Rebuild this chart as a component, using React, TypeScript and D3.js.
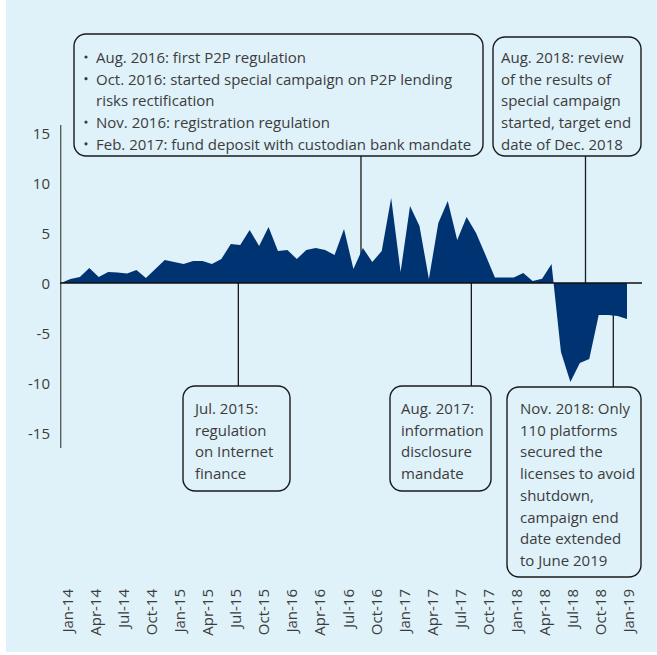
import React from "react";
import * as d3 from "d3";

// Monthly values, Jan-2014 .. Jan-2019 (61 points)
const values: number[] = [
  0.0, 0.4, 0.6, 1.5, 0.6, 1.1, 1.05, 0.95, 1.3, 0.5, 1.4, 2.3,
  2.1, 1.9, 2.2, 2.2, 1.9, 2.4, 3.9, 3.8, 5.3, 3.7, 5.6, 3.2,
  3.3, 2.4, 3.3, 3.5, 3.3, 2.8, 5.4, 1.4, 3.5, 2.1, 3.2, 8.5,
  1.1, 7.7, 5.7, 0.4, 6.0, 8.2, 4.3, 6.6, 5.0, 2.8, 0.55, 0.55,
  0.55, 1.0, 0.2, 0.43, 1.9, -6.9, -9.9, -8.0, -7.6, -3.2, -3.2, -3.3,
  -3.6,
];

const tickLabels: string[] = [
  "Jan-14", "Apr-14", "Jul-14", "Oct-14",
  "Jan-15", "Apr-15", "Jul-15", "Oct-15",
  "Jan-16", "Apr-16", "Jul-16", "Oct-16",
  "Jan-17", "Apr-17", "Jul-17", "Oct-17",
  "Jan-18", "Apr-18", "Jul-18", "Oct-18",
  "Jan-19",
];

const yTicks: number[] = [15, 10, 5, 0, -5, -10, -15];

// Annotation texts
const noteTop1: string[] = [
  "Aug. 2016: first P2P regulation",
  "Oct. 2016: started special campaign on P2P lending",
  "risks rectification",
  "Nov. 2016: registration regulation",
  "Feb. 2017: fund deposit with custodian bank mandate",
];
const noteTop1Bullets: boolean[] = [true, true, false, true, true];
const noteTop2: string[] = [
  "Aug. 2018: review",
  "of the results of",
  "special campaign",
  "started, target end",
  "date of Dec. 2018",
];
const noteBot1: string[] = ["Jul. 2015:", "regulation", "on Internet", "finance"];
const noteBot2: string[] = ["Aug. 2017:", "information", "disclosure", "mandate"];
const noteBot3: string[] = [
  "Nov. 2018: Only",
  "110 platforms",
  "secured the",
  "licenses to avoid",
  "shutdown,",
  "campaign end",
  "date extended",
  "to June 2019",
];

const W = 657;
const H = 655;
const FONT = "'Open Sans', 'Noto Sans', sans-serif";
const TEXT = "#3c3c3c";
const BG = "#dff1f9";
const NAVY = "#003372";

export default function App() {
  const x = d3.scaleLinear().domain([0, values.length - 1]).range([61, 627]);
  const xLab = d3.scaleLinear().domain([0, 60]).range([67.3, 627.7]);
  const y = d3.scaleLinear().domain([-15, 15]).range([433, 133]);

  const area = d3
    .area<number>()
    .x((_, i) => x(i))
    .y0(y(0))
    .y1((d) => y(d))
    .curve(d3.curveLinear);

  const lineH = 21.7;

  const box = (
    bx: number, by: number, bw: number, bh: number,
    lines: string[], tx: number, ty: number, bullets?: boolean[]
  ) => (
    <g>
      <rect x={bx} y={by} width={bw} height={bh} rx={12} ry={12}
        fill={BG} stroke="#1a1a1a" strokeWidth={1.4} />
      {lines.map((t, i) => (
        <g key={i}>
          {bullets && bullets[i] && (
            <circle cx={tx - 10} cy={ty + i * lineH} r={1.6} fill={TEXT} />
          )}
          <text x={tx} y={ty + i * lineH} dominantBaseline="central"
            fontFamily={FONT} fontSize={15} fill={TEXT}>{t}</text>
        </g>
      ))}
    </g>
  );

  // leader positions in month units (event month, mid-month offset)
  const leaders = [
    { m: 18.8, y1: y(0), y2: 386 },
    { m: 31.8, y1: 156, y2: y(0) },
    { m: 43.5, y1: y(0), y2: 386 },
    { m: 55.6, y1: 156, y2: y(0) },
    { m: 58.55, y1: y(0), y2: 387 },
  ];

  return (
    <svg width={W} height={H} style={{ position: "absolute", left: 0, top: 0 }}>
      <rect x={0} y={0} width={W} height={H} fill="#ffffff" />
      <rect x={6} y={0} width={W - 6} height={652} fill={BG} />

      {/* leaders */}
      {leaders.map((l, i) => (
        <line key={i} x1={x(l.m)} x2={x(l.m)} y1={l.y1} y2={l.y2}
          stroke="#1a1a1a" strokeWidth={1.3} />
      ))}

      {/* area */}
      <path d={area(values) || ""} fill={NAVY} />

      {/* axes */}
      <line x1={60.7} x2={60.7} y1={125} y2={448} stroke="#555" strokeWidth={1.3} />
      <line x1={60} x2={642} y1={y(0)} y2={y(0)} stroke="#111" strokeWidth={1.3} />

      {yTicks.map((t) => (
        <text key={t} x={50} y={y(t)} textAnchor="end" dominantBaseline="central"
          fontFamily={FONT} fontSize={15} fill={TEXT}>{t}</text>
      ))}

      {tickLabels.map((t, i) => (
        <text key={t} transform={`translate(${xLab(i * 3)},589) rotate(-90)`}
          textAnchor="end" dominantBaseline="central"
          fontFamily={FONT} fontSize={15} fill={TEXT}>{t}</text>
      ))}

      {/* annotation boxes */}
      {box(74, 34, 409, 122, noteTop1, 96, 57, noteTop1Bullets)}
      {box(493, 37, 148, 119, noteTop2, 501, 57)}
      {box(183, 386, 107, 105, noteBot1, 195, 408)}
      {box(390, 386, 101, 105, noteBot2, 401, 408)}
      {box(507, 387, 134, 190, noteBot3, 520, 408)}
    </svg>
  );
}
